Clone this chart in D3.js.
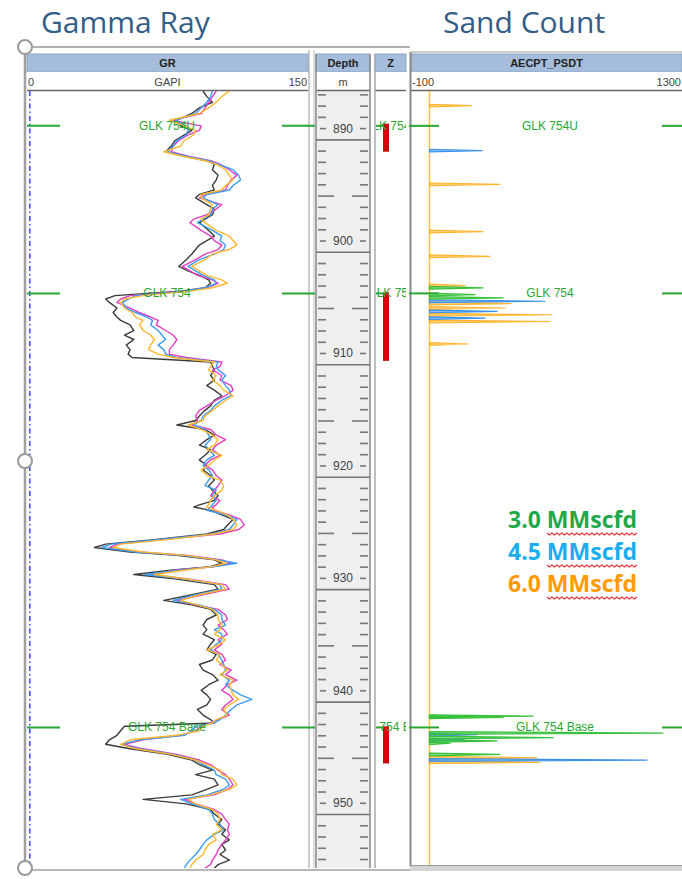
<!DOCTYPE html>
<html>
<head>
<meta charset="utf-8">
<script src="https://cdn.jsdelivr.net/npm/d3@7"></script>
<style>
  body { margin: 0; background: #fff; }
  svg { display: block; }
</style>
</head>
<body>
<div id="chart"></div>
<script>

// GR log samples (depth in m, values in GAPI), one array per run
var grDepth = [886.7, 887.2, 887.7, 888.2, 888.7, 889.3, 889.8, 890.2, 890.6, 891.1, 891.6, 892.1, 892.5, 892.9, 893.2, 893.7, 894.2, 894.6, 895.1, 895.5, 895.9, 896.2, 896.8, 897.2, 897.7, 898.1, 898.4, 899.1, 899.6, 900.0, 900.4, 900.8, 901.2, 901.7, 902.3, 902.7, 903.1, 903.5, 903.8, 904.2, 904.5, 904.9, 905.2, 905.5, 906.0, 906.4, 906.8, 907.1, 907.5, 908.0, 908.4, 908.8, 909.3, 909.7, 910.1, 910.4, 910.8, 911.2, 911.5, 912.0, 912.4, 912.9, 913.3, 913.8, 914.2, 914.7, 915.1, 915.6, 916.0, 916.4, 916.8, 917.3, 917.7, 918.2, 918.6, 919.1, 919.5, 920.0, 920.4, 920.9, 921.3, 921.8, 922.2, 922.7, 923.1, 923.5, 923.7, 924.0, 924.4, 924.8, 925.3, 925.7, 926.1, 926.6, 927.0, 927.3, 927.7, 928.0, 928.4, 928.7, 929.0, 929.3, 929.7, 930.1, 930.6, 931.0, 931.5, 932.0, 932.4, 932.8, 933.3, 933.7, 934.2, 934.6, 935.0, 935.5, 935.9, 936.4, 936.8, 937.3, 937.7, 938.2, 938.6, 939.1, 939.5, 940.0, 940.4, 940.8, 941.3, 941.7, 942.2, 942.6, 942.9, 943.2, 943.6, 944.0, 944.4, 944.8, 945.2, 945.7, 946.2, 946.6, 947.1, 947.5, 947.9, 948.4, 948.8, 949.3, 949.7, 950.1, 950.6, 951.0, 951.5, 951.9, 952.4, 952.8, 953.3, 953.7, 954.2, 954.6, 955.1, 955.5, 955.8];
var grBlack   = [94, 96, 99, 92, 88, 80, 82, 88, 84, 79, 77, 74, 84, 96, 100, 99, 102, 101, 99, 100, 92, 90, 96, 100, 99, 95, 92, 97, 100, 96, 92, 90, 88, 85, 81, 86, 92, 97, 98, 95, 82, 47, 42, 44, 48, 46, 48, 50, 55, 57, 52, 57, 53, 55, 54, 56, 98, 99, 100, 98, 100, 96, 100, 104, 100, 98, 95, 92, 90, 80, 95, 100, 96, 92, 98, 95, 92, 96, 94, 98, 100, 97, 99, 102, 100, 92, 89, 98, 104, 110, 107, 105, 96, 68, 42, 36, 55, 80, 100, 104, 98, 78, 57, 80, 100, 102, 88, 73, 88, 98, 101, 96, 94, 96, 94, 100, 98, 96, 101, 99, 92, 94, 99, 102, 97, 93, 96, 98, 96, 91, 94, 98, 100, 52, 50, 48, 44, 42, 55, 75, 88, 92, 99, 90, 100, 102, 96, 88, 62, 85, 98, 100, 104, 102, 106, 104, 108, 104, 106, 103, 108, 102, 100];
var grMagenta = [101, 99, 97, 95, 93, 77, 93, 92, 86, 81, 78, 77, 86, 98, 103, 108, 112, 109, 107, 106, 95, 92, 104, 101, 96, 89, 87, 93, 98, 100, 104, 102, 95, 90, 83, 87, 91, 99, 102, 96, 85, 55, 50, 48, 55, 60, 66, 70, 69, 74, 78, 80, 78, 76, 76, 85, 104, 103, 99, 104, 103, 109, 110, 106, 101, 96, 92, 90, 91, 88, 98, 101, 106, 101, 99, 103, 98, 95, 99, 101, 104, 102, 100, 98, 103, 101, 99, 100, 108, 114, 116, 113, 103, 72, 48, 44, 60, 86, 104, 109, 100, 80, 66, 86, 106, 108, 94, 80, 90, 102, 106, 107, 102, 105, 107, 102, 104, 100, 104, 106, 103, 109, 106, 112, 107, 104, 108, 110, 106, 104, 108, 102, 98, 93, 90, 82, 62, 52, 62, 80, 92, 98, 102, 106, 108, 110, 107, 100, 84, 90, 100, 104, 106, 108, 107, 108, 106, 104, 102, 101, 99, 98, 95];
var grBlue    = [99, 98, 96, 93, 90, 79, 85, 86, 85, 80, 78, 75, 85, 97, 102, 110, 113, 114, 110, 108, 96, 94, 102, 99, 98, 94, 91, 99, 104, 103, 106, 105, 100, 92, 86, 90, 94, 100, 101, 95, 84, 58, 54, 51, 53, 58, 64, 67, 66, 70, 72, 74, 70, 73, 74, 80, 102, 101, 102, 106, 104, 106, 108, 109, 104, 100, 98, 94, 93, 89, 95, 97, 98, 95, 97, 100, 96, 94, 97, 99, 97, 95, 101, 99, 101, 99, 98, 96, 106, 112, 110, 108, 99, 70, 45, 40, 58, 83, 102, 112, 100, 82, 63, 84, 103, 104, 90, 78, 92, 100, 104, 104, 106, 100, 104, 104, 101, 98, 102, 104, 105, 106, 104, 108, 106, 110, 114, 120, 112, 109, 106, 103, 100, 90, 88, 84, 60, 50, 60, 78, 90, 94, 100, 101, 106, 108, 105, 96, 82, 88, 97, 99, 100, 103, 105, 100, 96, 94, 92, 90, 87, 85, 84];
var grOrange  = [108, 104, 101, 97, 92, 76, 84, 90, 89, 84, 82, 73, 83, 95, 101, 106, 108, 110, 106, 104, 93, 93, 99, 98, 97, 93, 95, 101, 108, 110, 112, 108, 99, 95, 88, 92, 96, 104, 107, 99, 87, 62, 52, 50, 52, 56, 58, 62, 60, 62, 66, 68, 66, 65, 70, 78, 100, 98, 97, 101, 99, 103, 105, 110, 106, 102, 99, 95, 94, 86, 93, 99, 102, 100, 96, 104, 100, 97, 93, 96, 103, 105, 104, 100, 98, 97, 96, 101, 107, 110, 112, 110, 100, 75, 50, 46, 62, 85, 101, 106, 99, 85, 68, 85, 104, 106, 92, 82, 91, 99, 102, 102, 104, 103, 100, 106, 103, 96, 103, 101, 104, 107, 103, 110, 108, 109, 110, 113, 108, 105, 107, 101, 99, 94, 92, 80, 55, 50, 58, 77, 90, 96, 103, 104, 110, 112, 108, 98, 86, 90, 99, 102, 103, 101, 104, 99, 101, 97, 95, 94, 90, 88, 87];

// AECPT_PSDT sand count spikes per gas rate
var sand6Depth  = [888.0, 895.0, 899.2, 901.4, 904.0, 905.6, 906.0, 906.6, 907.2, 909.2, 946.0, 946.4];
var sand6Value  = [219, 363, 276, 311, 183, 420, 389, 631, 621, 199, 553, 569];
var sand45Depth = [892.0, 905.4, 906.3, 906.9, 943.95, 944.4, 946.2];
var sand45Value = [271, 595, 348, 286, 245, 180, 1120];
var sand3Depth  = [904.2, 904.8, 905.1, 942.3, 942.4, 943.8, 944.2, 944.5, 944.7, 945.7];
var sand3Value  = [276, 235, 379, 533, 379, 1202, 636, 348, 106, 363];

// formation tops
var topNames  = ["GLK 754U", "GLK 754", "GLK 754 Base"];
var topDepths = [889.8, 904.7, 943.3];

// Z track zones
var zoneTop  = [889.6, 904.6, 943.2];
var zoneBase = [892.1, 910.7, 946.5];

// depth labels
var depthLabels = [890, 900, 910, 920, 930, 940, 950];

// legend
var legendLabels = ["3.0", "4.5", "6.0"];
var legendColors = ["#1fa84a", "#1aaeef", "#ff9a00"];

var width = 682;
var height = 879;

var dataTop = 91;
var dataBottom = 868;

var grLeft = 27, grRight = 308;
var depLeft = 316, depRight = 370;
var zLeft = 375, zRight = 406;
var sandLeft = 411, sandRight = 682;

var topColor = "#2aa732";
var labelFont = "'Liberation Sans Narrow', 'Liberation Sans', Arial, sans-serif";

// Create the SVG container and put it on the page right away (text is measured later).
const svg = d3.select("#chart").append("svg")
    .attr("width", width)
    .attr("height", height)
    .style("font-family", "'Liberation Sans', Arial, sans-serif");

// Declare the depth (vertical position) scale.
var y = d3.scaleLinear()
    .domain([886.7, 955.8])
    .range([dataTop, dataBottom]);

// Declare the GR and sand count (horizontal position) scales.
var xGR = d3.scaleLinear().domain([0, 150]).range([grLeft, grRight]);
var xSand = d3.scaleLinear().domain([-100, 1300]).range([sandLeft - 1, sandRight]);

// titles
svg.append("text").attr("x", 41).attr("y", 33)
    .attr("font-family", "'Open Sans', sans-serif").attr("font-size", 30)
    .attr("fill", "#325d88").text("Gamma Ray");
svg.append("text").attr("x", 443).attr("y", 33)
    .attr("font-family", "'Open Sans', sans-serif").attr("font-size", 30)
    .attr("fill", "#325d88").text("Sand Count");

// clip paths for the tracks
var defs = svg.append("defs");
defs.append("clipPath").attr("id", "clipGR").append("rect")
    .attr("x", grLeft).attr("y", dataTop).attr("width", grRight - grLeft).attr("height", dataBottom - dataTop);
defs.append("clipPath").attr("id", "clipZ").append("rect")
    .attr("x", zLeft + 1).attr("y", dataTop).attr("width", zRight - zLeft - 1).attr("height", dataBottom - dataTop);
defs.append("clipPath").attr("id", "clipSand").append("rect")
    .attr("x", sandLeft).attr("y", dataTop).attr("width", sandRight - sandLeft).attr("height", dataBottom - dataTop - 3);

// frame of the left panel
svg.append("line").attr("x1", 25).attr("x2", 410).attr("y1", 47).attr("y2", 47)
    .attr("stroke", "#b0b0b0").attr("stroke-width", 2);
svg.append("line").attr("x1", 25).attr("x2", 410).attr("y1", 870).attr("y2", 870)
    .attr("stroke", "#b8b8b8").attr("stroke-width", 2);
svg.append("line").attr("x1", 25).attr("x2", 25).attr("y1", 47).attr("y2", 870)
    .attr("stroke", "#a0a0a0").attr("stroke-width", 2.5);

// header helper
function header(x0, x1, name, left, mid, right) {
    svg.append("rect").attr("x", x0).attr("y", 54).attr("width", x1 - x0).attr("height", 18)
        .attr("fill", "#a5bddb").attr("stroke", "#8ea6c4");
    svg.append("rect").attr("x", x0).attr("y", 72).attr("width", x1 - x0).attr("height", 18)
        .attr("fill", "#fff");
    svg.append("line").attr("x1", x0).attr("x2", x1).attr("y1", 90.5).attr("y2", 90.5)
        .attr("stroke", "#666").attr("stroke-width", 1.5);
    svg.append("text").attr("x", (x0 + x1) / 2).attr("y", 67).attr("text-anchor", "middle")
        .attr("font-size", 11).attr("font-weight", "bold").attr("fill", "#222").text(name);
    if (left) svg.append("text").attr("x", x0 + 1).attr("y", 86).attr("font-size", 11).attr("fill", "#444").text(left);
    if (mid) svg.append("text").attr("x", (x0 + x1) / 2).attr("y", 86).attr("text-anchor", "middle")
        .attr("font-size", 11).attr("fill", "#444").text(mid);
    if (right) svg.append("text").attr("x", x1 - 1).attr("y", 86).attr("text-anchor", "end")
        .attr("font-size", 11).attr("fill", "#444").text(right);
}

// ----- GR track -----
svg.append("line").attr("x1", grRight + 1).attr("x2", grRight + 1).attr("y1", 50).attr("y2", dataBottom)
    .attr("stroke", "#999");
svg.append("line").attr("x1", grRight + 6).attr("x2", grRight + 6).attr("y1", 50).attr("y2", dataBottom)
    .attr("stroke", "#bbb");
header(grLeft, grRight, "GR", "0", "GAPI", "150");

var gGR = svg.append("g").attr("clip-path", "url(#clipGR)");

// blue dash-dot reference curve on the left edge
gGR.append("line").attr("x1", xGR(1.5)).attr("x2", xGR(1.5)).attr("y1", dataTop).attr("y2", dataBottom)
    .attr("stroke", "#3546e8").attr("stroke-width", 1.5).attr("stroke-dasharray", "5,3,1.5,3");

var grLine = d3.line()
    .x(d => xGR(d[1]))
    .y(d => y(d[0]));

var grSeries = [
    { values: grBlack,   color: "#3c3c3c" },
    { values: grMagenta, color: "#e33fc0" },
    { values: grBlue,    color: "#3d9cf2" },
    { values: grOrange,  color: "#ffb82e" }
];
grSeries.forEach(function(s) {
    gGR.append("path")
        .attr("d", grLine(grDepth.map((d, i) => [d, s.values[i]])))
        .attr("fill", "none")
        .attr("stroke", s.color)
        .attr("stroke-width", 1.4)
        .attr("stroke-linejoin", "round");
});

// formation tops in GR track
topDepths.forEach(function(d, i) {
    svg.append("line").attr("x1", grLeft).attr("x2", grLeft + 33).attr("y1", y(d)).attr("y2", y(d))
        .attr("stroke", topColor).attr("stroke-width", 2);
    svg.append("line").attr("x1", grRight - 26).attr("x2", grRight + 7).attr("y1", y(d)).attr("y2", y(d))
        .attr("stroke", topColor).attr("stroke-width", 2);
    svg.append("text").attr("x", 167).attr("y", y(d) + 4).attr("text-anchor", "middle")
        .attr("font-family", labelFont).attr("font-size", 12).attr("fill", topColor).text(topNames[i]);
});

// ----- Depth track -----
svg.append("rect").attr("x", depLeft).attr("y", 54).attr("width", depRight - depLeft).attr("height", dataBottom - 54)
    .attr("fill", "#efefef");
header(depLeft, depRight, "Depth", null, "m", null);
svg.append("line").attr("x1", depLeft).attr("x2", depLeft).attr("y1", 54).attr("y2", dataBottom)
    .attr("stroke", "#888").attr("stroke-width", 1.5);
svg.append("line").attr("x1", depRight).attr("x2", depRight).attr("y1", 54).attr("y2", dataBottom)
    .attr("stroke", "#888").attr("stroke-width", 1.5);

// minor ticks every metre on both sides
var minorDepths = d3.range(887, 956).filter(d => d % 10 !== 0 && d % 10 !== 1 && d % 10 !== 6);
var longDepths = d3.range(887, 956).filter(d => d % 10 === 6);
var fullDepths = d3.range(887, 956).filter(d => d % 10 === 1);

var gDepth = svg.append("g");
gDepth.append("g").attr("transform", `translate(${depLeft + 2},0)`)
    .call(d3.axisRight(y).tickValues(minorDepths).tickSize(8).tickFormat(""))
    .call(g => g.select(".domain").remove());
gDepth.append("g").attr("transform", `translate(${depRight - 2},0)`)
    .call(d3.axisLeft(y).tickValues(minorDepths).tickSize(8).tickFormat(""))
    .call(g => g.select(".domain").remove());
gDepth.append("g").attr("transform", `translate(${depLeft + 2},0)`)
    .call(d3.axisRight(y).tickValues(longDepths).tickSize(16).tickFormat(""))
    .call(g => g.select(".domain").remove());
gDepth.append("g").attr("transform", `translate(${depRight - 2},0)`)
    .call(d3.axisLeft(y).tickValues(longDepths).tickSize(16).tickFormat(""))
    .call(g => g.select(".domain").remove());
gDepth.append("g").attr("transform", `translate(${depLeft},0)`)
    .call(d3.axisRight(y).tickValues(fullDepths).tickSize(depRight - depLeft).tickFormat(""))
    .call(g => g.select(".domain").remove());

// labelled ticks
gDepth.append("g").attr("transform", `translate(${depLeft + 4},0)`)
    .call(d3.axisRight(y).tickValues(depthLabels).tickSize(6).tickFormat(""))
    .call(g => g.select(".domain").remove());
gDepth.append("g").attr("transform", `translate(${depRight - 4},0)`)
    .call(d3.axisLeft(y).tickValues(depthLabels).tickSize(6).tickFormat(""))
    .call(g => g.select(".domain").remove());
gDepth.selectAll(".depthLabel").data(depthLabels).join("text")
    .attr("class", "depthLabel")
    .attr("x", (depLeft + depRight) / 2).attr("y", d => y(d) + 4.5)
    .attr("text-anchor", "middle").attr("font-size", 12).attr("fill", "#444")
    .attr("font-family", labelFont).text(d => d);

gDepth.selectAll(".tick line").attr("stroke", "#777").attr("stroke-width", 1.6);

// ----- Z track -----
svg.append("rect").attr("x", zLeft).attr("y", 54).attr("width", zRight - zLeft).attr("height", dataBottom - 54)
    .attr("fill", "#fff");
header(zLeft, zRight, "Z", null, null, null);
svg.append("line").attr("x1", zLeft).attr("x2", zLeft).attr("y1", 54).attr("y2", dataBottom)
    .attr("stroke", "#aaa").attr("stroke-width", 1.5);

var gZ = svg.append("g").attr("clip-path", "url(#clipZ)");
gZ.selectAll("rect").data(zoneTop).join("rect")
    .attr("x", 383).attr("width", 6)
    .attr("y", d => y(d)).attr("height", (d, i) => y(zoneBase[i]) - y(d))
    .attr("fill", "#cc0a0a");
topDepths.forEach(function(d, i) {
    gZ.append("line").attr("x1", zLeft).attr("x2", 384).attr("y1", y(d)).attr("y2", y(d))
        .attr("stroke", topColor).attr("stroke-width", 2);
    gZ.append("text").attr("x", 391).attr("y", y(d) + 4).attr("text-anchor", "middle")
        .attr("font-family", labelFont).attr("font-size", 12).attr("fill", topColor).text(topNames[i]);
});

// ----- Sand count track -----
svg.append("rect").attr("x", sandLeft - 1).attr("y", 866).attr("width", sandRight - sandLeft + 1).attr("height", 5)
    .attr("fill", "#d4d4d4");
svg.append("rect").attr("x", sandLeft).attr("y", 52).attr("width", sandRight - sandLeft).attr("height", 814)
    .attr("fill", "#fff");
svg.append("line").attr("x1", sandLeft).attr("x2", sandRight).attr("y1", 52).attr("y2", 52)
    .attr("stroke", "#bbb").attr("stroke-width", 1.5);
header(sandLeft, sandRight, "AECPT_PSDT", "-100", null, "1300");
svg.append("line").attr("x1", sandLeft - 0.5).attr("x2", sandLeft - 0.5).attr("y1", 52).attr("y2", 866)
    .attr("stroke", "#888").attr("stroke-width", 2);
svg.append("line").attr("x1", sandLeft).attr("x2", sandRight).attr("y1", 865.5).attr("y2", 865.5)
    .attr("stroke", "#999").attr("stroke-width", 1);

var gSand = svg.append("g").attr("clip-path", "url(#clipSand)");

// zero baseline
gSand.append("line").attr("x1", xSand(0)).attr("x2", xSand(0)).attr("y1", dataTop).attr("y2", dataBottom)
    .attr("stroke", "#ffc23a").attr("stroke-width", 1.5);

function spikes(depths, values, color) {
    gSand.append("g").selectAll("path").data(depths).join("path")
        .attr("d", (d, i) => "M" + xSand(0) + "," + y(d - 0.12) +
            "L" + xSand(values[i]) + "," + y(d) +
            "L" + xSand(0) + "," + y(d + 0.12) + "Z")
        .attr("fill", color).attr("fill-opacity", 0.6)
        .attr("stroke", color).attr("stroke-width", 1.2).attr("stroke-linejoin", "round");
}
spikes(sand6Depth, sand6Value, "#ffb52e");
spikes(sand45Depth, sand45Value, "#3c92ea");
spikes(sand3Depth, sand3Value, "#35c13a");

// formation tops in sand track
topDepths.forEach(function(d, i) {
    svg.append("line").attr("x1", sandLeft - 2).attr("x2", sandLeft + 28).attr("y1", y(d)).attr("y2", y(d))
        .attr("stroke", topColor).attr("stroke-width", 2);
    svg.append("line").attr("x1", sandRight - 20).attr("x2", sandRight).attr("y1", y(d)).attr("y2", y(d))
        .attr("stroke", topColor).attr("stroke-width", 2);
    svg.append("text").attr("x", i === 2 ? 555 : 550).attr("y", y(d) + 4).attr("text-anchor", "middle")
        .attr("font-family", labelFont).attr("font-size", 12).attr("fill", topColor).text(topNames[i]);
});

// legend with spell-check squiggles under the unit
legendLabels.forEach(function(lab, i) {
    var by = 528 + i * 32;
    var t = svg.append("text").attr("x", 508).attr("y", by)
        .attr("font-family", "'Open Sans', sans-serif").attr("font-weight", "bold")
        .attr("font-size", 23).attr("fill", legendColors[i]);
    t.append("tspan").text(lab + " ");
    var unit = t.append("tspan").text("MMscfd");
    var start = unit.node().getStartPositionOfChar(0).x;
    var len = unit.node().getComputedTextLength();
    var pts = d3.range(0, Math.floor(len / 2.5) + 1).map(k => [start + k * 2.5, by + 5 + (k % 2 ? 2 : 0)]);
    svg.append("path").attr("d", d3.line()(pts))
        .attr("fill", "none").attr("stroke", "#e53b3b").attr("stroke-width", 1.3);
});

// frame handles
svg.selectAll(".handle").data([47, 461, 868]).join("circle")
    .attr("class", "handle")
    .attr("cx", 25).attr("cy", d => d).attr("r", 7)
    .attr("fill", "#fff").attr("stroke", "#9a9a9a").attr("stroke-width", 2);

</script>
</body>
</html>
